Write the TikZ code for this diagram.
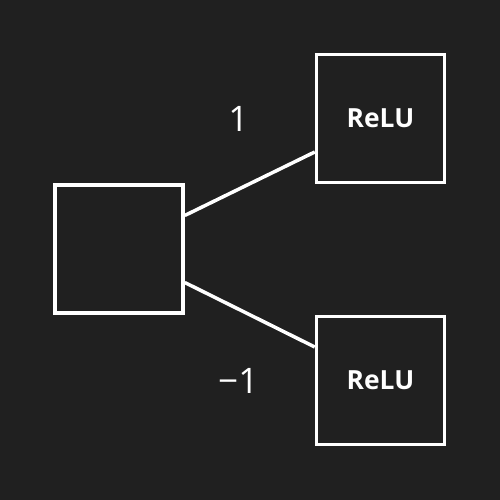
\documentclass[tikz,border=0pt]{standalone}
\usepackage{fontspec}
\setmainfont{Open Sans}
\usetikzlibrary{positioning, backgrounds}
\definecolor{bgdark}{HTML}{202020}

\begin{document}
\begin{tikzpicture}[
            node distance = 1.2cm and 1.2cm,
            box/.style = {rectangle, draw=white, line width=2pt,
                          minimum width=2.56cm, minimum height=2.56cm,
                          font=\bfseries\fontsize{15}{18}\selectfont, text=white},
            weight/.style = {inner sep=0pt, text=white,
                             font=\fontsize{20}{24}\selectfont},
            wire/.style = {white, line width=2pt}
                                 ]
            \fill[bgdark] (0,0) rectangle (10,10);
            \useasboundingbox (0,0) rectangle (10,10);
            \node[box] (IN)    at (2.38,5.02) {};
            \node[box] (RELUA) at (7.61,7.63) {ReLU};
            \node[box] (RELUB) at (7.61,2.39) {ReLU};
            \node[weight] (WA) [left = 1.32cm of RELUA] {1};
            \node[weight] (WB) [left = 1.12cm of RELUB] {−1};
            %
            \draw [wire]  (IN.27)  -- (RELUA.207)
                          (IN.-27) -- (RELUB.153);
    \end{tikzpicture}
\end{document}
